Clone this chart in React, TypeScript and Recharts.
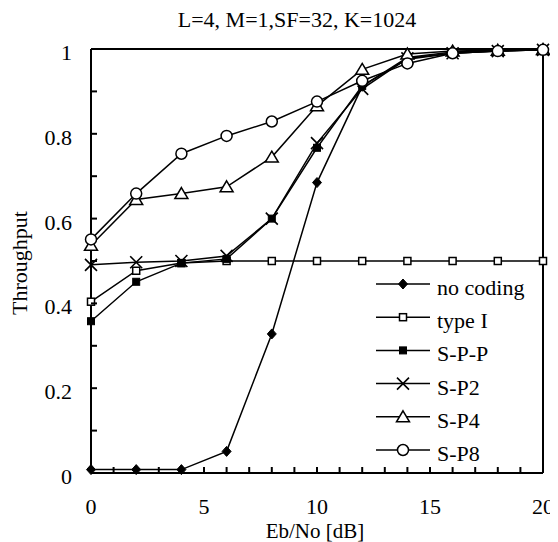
import React from "react";
import { LineChart, Line, XAxis, YAxis } from "recharts";

const ebNo = [0, 2, 4, 6, 8, 10, 12, 14, 16, 18, 20];
const noCoding = [0.008, 0.008, 0.008, 0.051, 0.328, 0.685, 0.912, 0.98, 0.993, 0.996, 0.998];
const typeI = [0.404, 0.477, 0.495, 0.5, 0.5, 0.5, 0.5, 0.5, 0.5, 0.5, 0.5];
const spp = [0.358, 0.451, 0.495, 0.505, 0.6, 0.767, 0.913, 0.976, 0.99, 0.995, 0.998];
const sp2 = [0.491, 0.497, 0.5, 0.512, 0.6, 0.778, 0.906, 0.978, 0.99, 0.995, 0.998];
const sp4 = [0.537, 0.645, 0.659, 0.675, 0.745, 0.866, 0.952, 0.988, 0.995, 0.997, 0.999];
const sp8 = [0.551, 0.659, 0.753, 0.795, 0.829, 0.876, 0.925, 0.966, 0.99, 0.995, 0.998];

const xTicks = [0, 1, 2, 3, 4, 5, 6, 7, 8, 9, 10, 11, 12, 13, 14, 15, 16, 17, 18, 19, 20];
const yTicks = [0, 0.1, 0.2, 0.3, 0.4, 0.5, 0.6, 0.7, 0.8, 0.9, 1];
const yLabels: Record<string, string> = { "0": "0", "0.2": "0.2", "0.4": "0.4", "0.6": "0.6", "0.8": "0.8", "1": "1" };

const FONT = '"Liberation Serif", "Times New Roman", serif';
const FS = 22;

const data = ebNo.map((x, i) => ({
  x,
  noCoding: noCoding[i],
  typeI: typeI[i],
  spp: spp[i],
  sp2: sp2[i],
  sp4: sp4[i],
  sp8: sp8[i],
}));

type Shape = (cx: number, cy: number, key?: string | number) => React.ReactElement;

const diamond: Shape = (cx, cy, key) => (
  <path key={key} d={`M${cx},${cy - 5}L${cx + 4.5},${cy}L${cx},${cy + 5}L${cx - 4.5},${cy}Z`} fill="#000" stroke="#000" />
);
const openSquare: Shape = (cx, cy, key) => (
  <rect key={key} x={cx - 3.5} y={cy - 3.5} width={7} height={7} fill="#fff" stroke="#000" strokeWidth={1.5} />
);
const fillSquare: Shape = (cx, cy, key) => (
  <rect key={key} x={cx - 3.5} y={cy - 3.5} width={7} height={7} fill="#000" stroke="#000" strokeWidth={1} />
);
const cross: Shape = (cx, cy, key) => (
  <path key={key} d={`M${cx - 6},${cy - 6}L${cx + 6},${cy + 6}M${cx - 6},${cy + 6}L${cx + 6},${cy - 6}`} stroke="#000" strokeWidth={1.6} fill="none" />
);
const triangle: Shape = (cx, cy, key) => (
  <path key={key} d={`M${cx},${cy - 6}L${cx + 6.5},${cy + 5}L${cx - 6.5},${cy + 5}Z`} fill="#fff" stroke="#000" strokeWidth={1.5} />
);
const circle: Shape = (cx, cy, key) => (
  <circle key={key} cx={cx} cy={cy} r={5.5} fill="#fff" stroke="#000" strokeWidth={1.5} />
);

const SERIES: { key: string; label: string; shape: Shape }[] = [
  { key: "noCoding", label: "no coding", shape: diamond },
  { key: "typeI", label: "type I", shape: openSquare },
  { key: "spp", label: "S-P-P", shape: fillSquare },
  { key: "sp2", label: "S-P2", shape: cross },
  { key: "sp4", label: "S-P4", shape: triangle },
  { key: "sp8", label: "S-P8", shape: circle },
];

// ticks point inward, labels only on the major ones
const XTick = (props: any) => {
  const { x, y, payload } = props;
  const v = payload.value;
  return (
    <g>
      <line x1={x} x2={x} y1={y} y2={y - 6} stroke="#000" strokeWidth={2} />
      {v % 5 === 0 && (
        <text x={x} y={y + 41} textAnchor="middle" fontFamily={FONT} fontSize={FS} fill="#000">
          {v}
        </text>
      )}
    </g>
  );
};

const YTick = (props: any) => {
  const { x, y, payload } = props;
  const label = yLabels[String(payload.value)];
  return (
    <g>
      <line x1={x} x2={x + 6} y1={y} y2={y} stroke="#000" strokeWidth={2} />
      {label && (
        <text x={x - 19} y={y + 11} textAnchor="end" fontFamily={FONT} fontSize={FS} fill="#000">
          {label}
        </text>
      )}
    </g>
  );
};

const axisStyle = { stroke: "#000", strokeWidth: 2 };

export default function App() {
  const W = 550;
  const H = 534;
  return (
    <div style={{ position: "relative", width: W, height: H, background: "#fff" }}>
      <LineChart width={W} height={H} data={data} margin={{ top: 40, right: 14, bottom: 19, left: 0 }}>
        <XAxis
          dataKey="x"
          type="number"
          domain={[0, 20]}
          ticks={xTicks}
          interval={0}
          height={50}
          tickSize={0}
          tickMargin={0}
          tickLine={false}
          axisLine={axisStyle}
          tick={<XTick />}
        />
        <XAxis xAxisId="top" orientation="top" type="number" dataKey="x" domain={[0, 20]} height={1} tick={false} tickLine={false} axisLine={axisStyle} />
        <YAxis
          type="number"
          domain={[0, 1]}
          ticks={yTicks}
          interval={0}
          width={83}
          tickSize={0}
          tickMargin={0}
          tickLine={false}
          axisLine={axisStyle}
          tick={<YTick />}
        />
        <YAxis yAxisId="right" orientation="right" type="number" domain={[0, 1]} width={1} tick={false} tickLine={false} axisLine={axisStyle} />
        {SERIES.map((s) => (
          <Line
            key={s.key}
            dataKey={s.key}
            type="linear"
            stroke="#000"
            strokeWidth={1.5}
            isAnimationActive={false}
            dot={(p: any) => s.shape(p.cx, p.cy, `${s.key}-${p.index}`)}
            activeDot={false}
          />
        ))}
      </LineChart>
      <svg width={W} height={H} style={{ position: "absolute", left: 0, top: 0, pointerEvents: "none" }}>
        <text x={289} y={19} textAnchor="middle" fontFamily={FONT} fontSize={FS} fill="#000">
          L=4, M=1,SF=32, K=1024
        </text>
        <text x={19} y={255} textAnchor="middle" fontFamily={FONT} fontSize={FS} fill="#000" transform="rotate(-90 19 255)">
          Throughput
        </text>
        <text x={307} y={529.5} textAnchor="middle" fontFamily={FONT} fontSize={21} fill="#000">
          Eb/No [dB]
        </text>
        {SERIES.map((s, i) => {
          const y = 276 + i * 33.2;
          return (
            <g key={s.key}>
              <line x1={368} x2={422} y1={y} y2={y} stroke="#000" strokeWidth={1.5} />
              {s.shape(395, y)}
              <text x={429} y={y + 11} fontFamily={FONT} fontSize={FS} fill="#000">
                {s.label}
              </text>
            </g>
          );
        })}
      </svg>
    </div>
  );
}
